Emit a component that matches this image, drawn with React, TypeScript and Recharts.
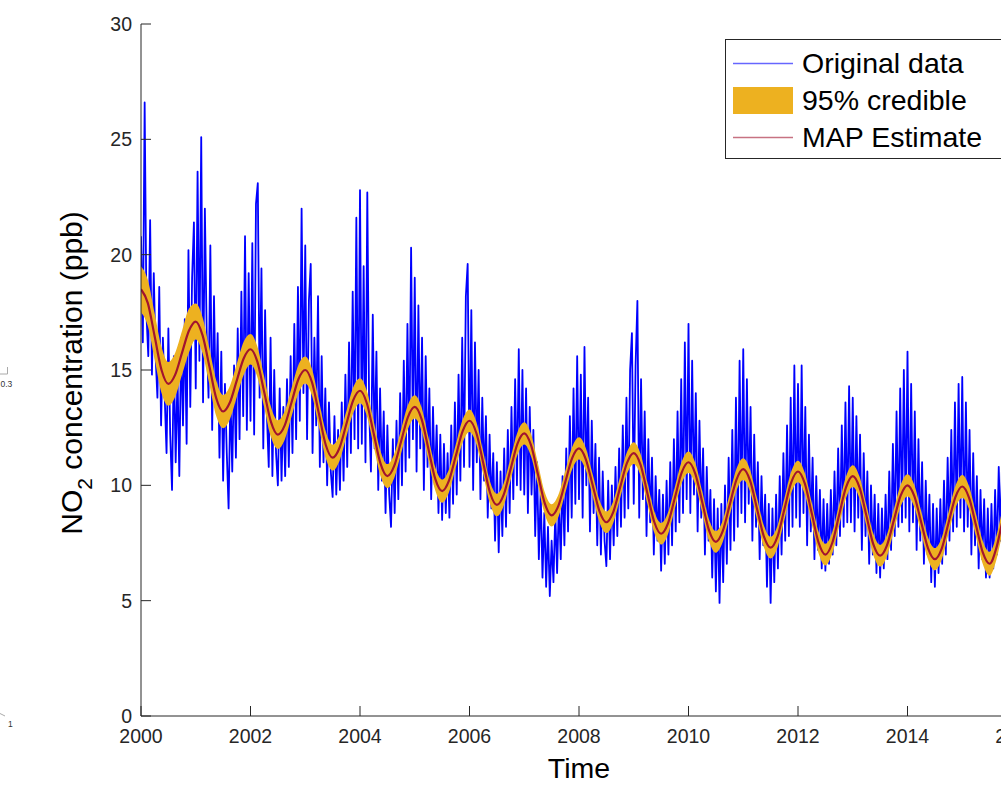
import { Area, ComposedChart, Legend, Line, XAxis, YAxis } from "recharts";

const AXIS = "#262626";
const RAW_COLOR = "#0000ff";
const BAND_COLOR = "#EDB120";
const MAP_COLOR = "#A2142F";
const FONT = '"Liberation Sans", Arial, Helvetica, sans-serif';

// measurements, 30 samples per year starting 1 Jan
const years = [2000, 2001, 2002, 2003, 2004, 2005, 2006, 2007, 2008, 2009, 2010, 2011, 2012, 2013, 2014, 2015];
const samplesPerYear = 30;

const raw2000 = [20.8, 16.2, 26.6, 17.4, 15.6, 21.5, 14.8, 19.2, 15.6, 13.8, 18.6, 12.6, 16.4, 13.8, 11.4, 16.8, 12.2, 9.8, 15.6, 11.0, 14.8, 10.4, 16.4, 12.6, 17.2, 11.8, 20.2, 13.4, 19.0, 21.4];
const raw2001 = [14.2, 23.6, 15.4, 25.1, 13.6, 22.0, 16.6, 13.8, 20.4, 12.4, 18.2, 13.4, 16.6, 11.2, 15.8, 10.2, 14.4, 11.4, 9.0, 14.0, 10.6, 15.2, 11.2, 16.8, 12.0, 18.4, 13.0, 20.8, 12.4, 19.2];
const raw2002 = [12.8, 20.5, 12.2, 22.2, 23.1, 13.8, 19.4, 11.6, 17.6, 13.0, 10.8, 16.4, 10.4, 15.0, 11.4, 10.0, 14.2, 10.2, 13.4, 10.4, 14.6, 10.8, 15.6, 11.4, 17.0, 12.0, 18.6, 12.8, 22.0, 14.0];
const raw2003 = [20.4, 12.0, 18.0, 19.6, 11.4, 16.4, 12.6, 18.2, 10.8, 15.6, 11.0, 14.2, 10.0, 13.6, 10.6, 9.5, 13.0, 9.6, 12.4, 9.8, 13.6, 10.2, 14.8, 10.8, 16.2, 11.4, 18.4, 12.0, 21.6, 11.6];
const raw2004 = [22.8, 11.8, 19.5, 11.0, 22.7, 13.4, 10.6, 17.4, 11.6, 15.8, 9.8, 14.2, 10.2, 13.2, 8.8, 12.6, 9.6, 8.2, 12.0, 8.8, 12.8, 9.4, 14.0, 10.0, 15.4, 10.6, 17.0, 11.2, 20.3, 12.0];
const raw2005 = [19.0, 10.6, 17.8, 11.6, 16.4, 9.8, 15.6, 10.8, 14.2, 9.4, 13.4, 10.0, 12.6, 8.8, 12.2, 8.5, 11.8, 8.8, 11.4, 8.6, 12.6, 9.2, 13.6, 9.6, 14.8, 10.2, 16.4, 10.8, 18.2, 19.6];
const raw2006 = [10.8, 17.6, 9.8, 16.2, 11.0, 15.0, 9.4, 13.8, 10.2, 13.0, 8.6, 12.2, 9.0, 11.4, 7.6, 11.0, 7.1, 10.6, 7.8, 11.6, 8.2, 12.4, 8.8, 13.4, 9.4, 14.6, 10.0, 15.9, 9.8, 15.0];
const raw2007 = [9.6, 14.2, 8.8, 13.4, 9.6, 12.4, 7.8, 11.0, 6.8, 9.8, 6.0, 8.8, 5.6, 8.2, 5.2, 7.6, 5.8, 8.8, 6.2, 9.4, 6.8, 10.4, 7.4, 11.6, 8.0, 13.0, 8.6, 14.2, 9.2, 15.6];
const raw2008 = [9.4, 14.8, 8.6, 16.0, 10.0, 13.8, 8.0, 12.8, 8.8, 11.8, 7.4, 11.2, 7.0, 10.6, 7.6, 6.5, 10.2, 6.8, 10.0, 7.4, 10.8, 7.8, 11.6, 8.2, 12.6, 8.6, 13.8, 9.0, 15.0, 16.6];
const raw2009 = [9.2, 15.2, 18.0, 8.6, 14.6, 9.4, 13.2, 7.8, 12.0, 8.4, 11.2, 7.0, 10.4, 7.6, 9.8, 6.3, 9.6, 6.6, 10.2, 7.0, 11.0, 7.4, 12.0, 8.0, 13.2, 8.4, 14.6, 8.8, 16.2, 9.4];
const raw2010 = [17.0, 8.8, 15.4, 9.6, 14.0, 8.0, 12.8, 8.6, 11.6, 7.0, 10.8, 7.6, 9.8, 6.0, 9.4, 5.4, 9.0, 4.9, 9.2, 5.8, 10.0, 6.6, 11.2, 7.2, 12.4, 7.6, 13.8, 8.2, 15.4, 8.8];
const raw2011 = [15.9, 8.4, 14.6, 9.2, 13.4, 7.6, 12.2, 8.2, 11.0, 6.8, 10.4, 7.4, 9.6, 5.6, 9.2, 4.9, 9.0, 5.8, 9.6, 6.4, 10.4, 7.0, 11.4, 7.6, 12.6, 7.8, 13.8, 8.2, 15.2, 8.6];
const raw2012 = [14.4, 8.2, 15.2, 8.8, 13.4, 7.4, 12.2, 8.0, 11.2, 6.8, 10.4, 7.2, 9.8, 6.4, 9.4, 6.3, 9.2, 6.6, 9.8, 7.0, 10.6, 7.4, 11.6, 7.8, 12.6, 8.2, 13.6, 8.4, 14.3, 8.4];
const raw2013 = [13.8, 8.0, 13.0, 8.6, 12.2, 7.2, 11.4, 7.8, 10.6, 6.6, 10.0, 7.0, 9.6, 6.2, 9.2, 6.0, 9.0, 6.4, 9.6, 6.8, 10.6, 7.2, 11.8, 7.8, 13.2, 8.2, 14.2, 8.4, 15.0, 8.6];
const raw2014 = [15.8, 8.0, 14.4, 8.4, 13.2, 7.2, 12.0, 7.6, 11.0, 6.6, 10.2, 7.0, 9.6, 5.8, 9.2, 5.6, 9.0, 6.2, 9.4, 6.6, 10.2, 7.0, 11.2, 7.6, 12.4, 8.0, 13.6, 8.2, 14.4, 8.6];
const raw2015 = [14.7, 8.0, 13.6, 8.2, 12.4, 7.0, 11.4, 7.4, 10.4, 6.4, 9.8, 6.8, 9.4, 6.0, 9.0, 6.0, 9.2, 6.4, 9.8, 7.0, 10.8, 7.6, 11.8, 8.0];
const rawByYear = [raw2000, raw2001, raw2002, raw2003, raw2004, raw2005, raw2006, raw2007, raw2008, raw2009, raw2010, raw2011, raw2012, raw2013, raw2014, raw2015];

// MAP estimate, 8 points per year from 2000.0 to 2016.0
const mapStepsPerYear = 8;
const mapEstimate = [
  18.5, 17.9, 16.45, 15.0, 14.4, 14.8, 15.75, 16.7,
  17.1, 16.5, 15.15, 13.77, 13.2, 13.6, 14.55, 15.5,
  15.9, 15.36, 14.05, 12.74, 12.2, 12.6, 13.6, 14.6,
  15.0, 14.45, 13.1, 11.75, 11.2, 11.62, 12.65, 13.68,
  14.1, 13.56, 12.25, 10.94, 10.4, 10.84, 11.9, 12.96,
  13.4, 12.87, 11.58, 10.28, 9.75, 10.2, 11.28, 12.35,
  12.8, 12.27, 10.98, 9.68, 9.15, 9.6, 10.7, 11.8,
  12.25, 11.73, 10.48, 9.22, 8.7, 9.12, 10.15, 11.18,
  11.6, 11.13, 10.0, 8.87, 8.4, 8.84, 9.9, 10.96,
  11.4, 10.89, 9.65, 8.41, 7.9, 8.35, 9.45, 10.55,
  11.0, 10.5, 9.28, 8.05, 7.55, 8.01, 9.13, 10.24,
  10.7, 10.2, 9.0, 7.8, 7.3, 7.78, 8.95, 10.12,
  10.6, 10.07, 8.8, 7.53, 7.0, 7.5, 8.7, 9.9,
  10.4, 9.9, 8.68, 7.45, 6.95, 7.4, 8.48, 9.55,
  10.0, 9.53, 8.4, 7.27, 6.8, 7.26, 8.38, 9.49,
  9.95, 9.46, 8.28, 7.09, 6.6, 7.3, 8.6, 9.5,
  9.8,
];
// half width of the 95% credible band, per half year
const bandHalfWidth = [
  1.0, 0.95, 0.78, 0.72, 0.66, 0.62, 0.58, 0.56, 0.54, 0.52, 0.5, 0.5, 0.49, 0.49, 0.48, 0.48,
  0.48, 0.47, 0.47, 0.47, 0.47, 0.47, 0.47, 0.47, 0.47, 0.47, 0.47, 0.47, 0.48, 0.48, 0.5, 0.52, 0.55,
];

const xTicks = [2000, 2002, 2004, 2006, 2008, 2010, 2012, 2014, 2016];
const yTicks = [0, 5, 10, 15, 20, 25, 30];
const legendOrder = ["Original data", "95% credible", "MAP Estimate"];

const rawData = rawByYear.flatMap((vals, i) =>
  vals.map((v, k) => ({ t: years[i] + k / samplesPerYear, v }))
);
const mapData = mapEstimate.map((m, j) => {
  const w = bandHalfWidth[Math.floor(j / (mapStepsPerYear / 2))];
  return { t: years[0] + j / mapStepsPerYear, map: m, band: [m - w, m + w] };
});

function YLabel(props: any) {
  const vb = props.viewBox || { x: 0, y: 24, height: 692 };
  const x = vb.x + 82;
  const y = vb.y + vb.height / 2 + 3;
  return (
    <text x={x} y={y} transform={`rotate(-90, ${x}, ${y})`} textAnchor="middle" fontSize={30} fill="#000" fontFamily={FONT}>
      <tspan>NO</tspan>
      <tspan dy={10} fontSize={21}>2</tspan>
      <tspan dy={-10}> concentration (ppb)</tspan>
    </text>
  );
}

function XLabel(props: any) {
  const vb = props.viewBox || { x: 141, y: 716, width: 876 };
  return (
    <text x={vb.x + vb.width / 2} y={vb.y + 62} textAnchor="middle" fontSize={28.5} fill="#000" fontFamily={FONT}>
      Time
    </text>
  );
}

function NO2Legend({ payload }: any) {
  const items = [...(payload || [])].sort((a: any, b: any) => legendOrder.indexOf(a.value) - legendOrder.indexOf(b.value));
  return (
    <div style={{ border: `1px solid ${AXIS}`, background: "#fff", height: 120, boxSizing: "border-box", paddingTop: 5, fontFamily: FONT }}>
      {items.map((entry: any) => (
        <div key={entry.value} style={{ display: "flex", alignItems: "center", height: 37 }}>
          <svg width={60} height={37} style={{ marginLeft: 7, marginRight: 9, flex: "none" }}>
            {entry.type === "rect" ? (
              <rect x={0} y={5} width={60} height={27} fill={BAND_COLOR} />
            ) : (
              <line x1={0} x2={60} y1={18.5} y2={18.5} stroke={entry.value === "MAP Estimate" ? MAP_COLOR : RAW_COLOR} strokeOpacity={0.6} strokeWidth={1.5} />
            )}
          </svg>
          <span style={{ fontSize: 28.5, color: "#000", whiteSpace: "nowrap", lineHeight: "37px" }}>{entry.value}</span>
        </div>
      ))}
    </div>
  );
}

export default function App() {
  return (
    <div style={{ position: "fixed", left: 0, top: 0, width: 1001, height: 785, overflow: "hidden", background: "#fff", fontFamily: FONT }}>
      <ComposedChart width={1100} height={785} margin={{ top: 24, right: 83, bottom: 0, left: 0 }}>
        <XAxis
          xAxisId="bottom"
          type="number"
          dataKey="t"
          domain={[2000, 2016]}
          ticks={xTicks}
          interval={0}
          allowDataOverflow
          height={69}
          stroke={AXIS}
          tickSize={-10}
          tickMargin={23}
          tick={{ fill: AXIS, fontSize: 19.5, fontFamily: FONT }}
          label={{ content: XLabel }}
        />
        <XAxis
          xAxisId="top"
          orientation="top"
          type="number"
          dataKey="t"
          domain={[2000, 2016]}
          ticks={xTicks}
          interval={0}
          allowDataOverflow
          height={0}
          stroke={AXIS}
          tickSize={-10}
          tickFormatter={() => ""}
        />
        <YAxis
          type="number"
          domain={[0, 30]}
          ticks={yTicks}
          interval={0}
          allowDataOverflow
          width={141}
          stroke={AXIS}
          tickSize={-10}
          tickMargin={19}
          tick={{ fill: AXIS, fontSize: 19.5, fontFamily: FONT }}
          label={{ content: YLabel }}
        />
        {/* raw series drawn as an unfilled area so the band is painted above it */}
        <Area
          xAxisId="bottom"
          data={rawData}
          dataKey="v"
          name="Original data"
          type="linear"
          stroke={RAW_COLOR}
          strokeWidth={1.8}
          strokeLinejoin="round"
          fill="none"
          dot={false}
          activeDot={false}
          legendType="line"
          isAnimationActive={false}
        />
        <Area
          xAxisId="bottom"
          data={mapData}
          dataKey="band"
          name="95% credible"
          type="monotone"
          stroke="none"
          fill={BAND_COLOR}
          fillOpacity={1}
          legendType="rect"
          isAnimationActive={false}
        />
        <Line
          xAxisId="bottom"
          data={mapData}
          dataKey="map"
          name="MAP Estimate"
          type="monotone"
          stroke={MAP_COLOR}
          strokeWidth={2.2}
          dot={false}
          activeDot={false}
          legendType="line"
          isAnimationActive={false}
        />
        <Legend
          layout="vertical"
          align="center"
          verticalAlign="middle"
          content={NO2Legend}
          wrapperStyle={{ left: 725, top: 39, width: 300 }}
        />
      </ComposedChart>
      {/* remnants of a neighbouring figure at the left edge */}
      <svg width={20} height={785} style={{ position: "absolute", left: 0, top: 0 }}>
        <polyline points="0,374 7.5,374 7.5,367" fill="none" stroke="#aaa" strokeWidth={1} />
        <text x={0.5} y={386.5} fontSize={8.5} fill="#333" fontFamily={FONT}>0.3</text>
        <line x1={0} y1={713.5} x2={5} y2={716} stroke="#aaa" strokeWidth={1} />
        <text x={8} y={726.5} fontSize={8.5} fill="#333" fontFamily={FONT}>1</text>
      </svg>
    </div>
  );
}
